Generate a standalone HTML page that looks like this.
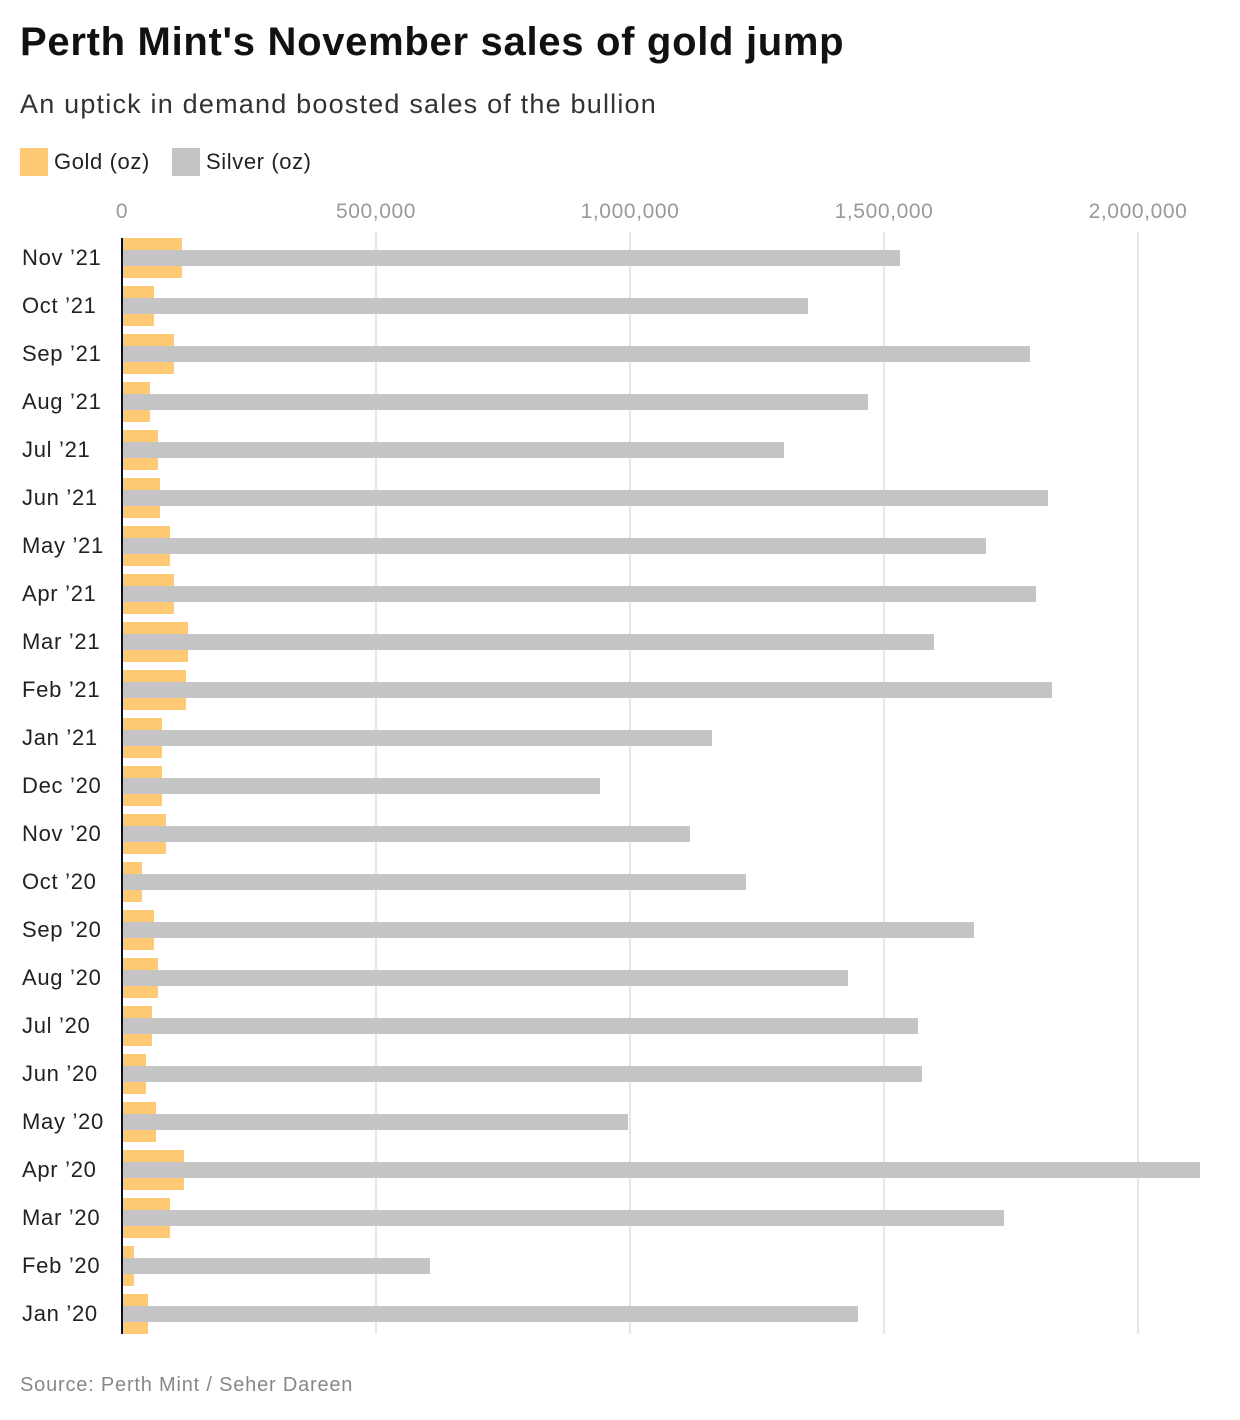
<!DOCTYPE html>
<html><head><meta charset="utf-8"><style>
body{margin:0;width:1240px;height:1420px;background:#fff;font-family:"Liberation Sans",sans-serif;position:relative;overflow:hidden}
.a{position:absolute}
.g{position:absolute;background:#ffc973;height:40px;left:123px}
.s{position:absolute;background:#c4c4c4;height:16px;left:123px}
.l{position:absolute;left:22px;font-size:22px;color:#222;line-height:40px;letter-spacing:0.7px}
.t{position:absolute;top:200px;font-size:21px;color:#999;transform:translateX(-50%);letter-spacing:0.6px}
.v{position:absolute;top:232px;height:1102px;width:2px;background:#e6e6e6}
</style></head><body>
<div class="a" style="left:20px;top:20px;font-size:40px;font-weight:bold;color:#111;letter-spacing:0.7px">Perth Mint's November sales of gold jump</div>
<div class="a" style="left:20px;top:89px;font-size:27px;color:#333;letter-spacing:1.2px">An uptick in demand boosted sales of the bullion</div>
<div class="a" style="left:20px;top:148px;width:28px;height:28px;background:#ffc973"></div>
<div class="a" style="left:54px;top:148px;font-size:22px;color:#222;line-height:28px;letter-spacing:0.6px">Gold (oz)</div>
<div class="a" style="left:172px;top:148px;width:28px;height:28px;background:#c4c4c4"></div>
<div class="a" style="left:206px;top:148px;font-size:22px;color:#222;line-height:28px;letter-spacing:0.6px">Silver (oz)</div>
<div class="t" style="left:122px">0</div>
<div class="t" style="left:376px">500,000</div>
<div class="t" style="left:630px">1,000,000</div>
<div class="t" style="left:884px">1,500,000</div>
<div class="t" style="left:1138px">2,000,000</div>
<div class="v" style="left:375px"></div><div class="v" style="left:629px"></div><div class="v" style="left:883px"></div><div class="v" style="left:1137px"></div>
<div id="c"></div>
<div class="a" style="left:121px;top:238px;width:2px;height:1096px;background:#111"></div>
<div class="a" style="left:20px;top:1374px;font-size:20px;color:#888;letter-spacing:0.8px">Source: Perth Mint / Seher Dareen</div>
<script>
var L=["Nov ’21","Oct ’21","Sep ’21","Aug ’21","Jul ’21","Jun ’21","May ’21","Apr ’21","Mar ’21","Feb ’21","Jan ’21","Dec ’20","Nov ’20","Oct ’20","Sep ’20","Aug ’20","Jul ’20","Jun ’20","May ’20","Apr ’20","Mar ’20","Feb ’20","Jan ’20"];
var S=[900,808,1030,868,784,1048,986,1036,934,1052,712,600,690,746,974,848,918,922,628,1200,1004,430,858];
var G=[182,154,174,150,158,160,170,174,188,186,162,162,166,142,154,158,152,146,156,184,170,134,148];
var h="";for(var i=0;i<23;i++){var t=238+48*i;
h+='<div class="g" style="top:'+t+'px;width:'+(G[i]-123)+'px"></div><div class="s" style="top:'+(t+12)+'px;width:'+(S[i]-123)+'px"></div><div class="l" style="top:'+t+'px">'+L[i]+'</div>';}
document.getElementById("c").innerHTML=h;
</script>
</body></html>
